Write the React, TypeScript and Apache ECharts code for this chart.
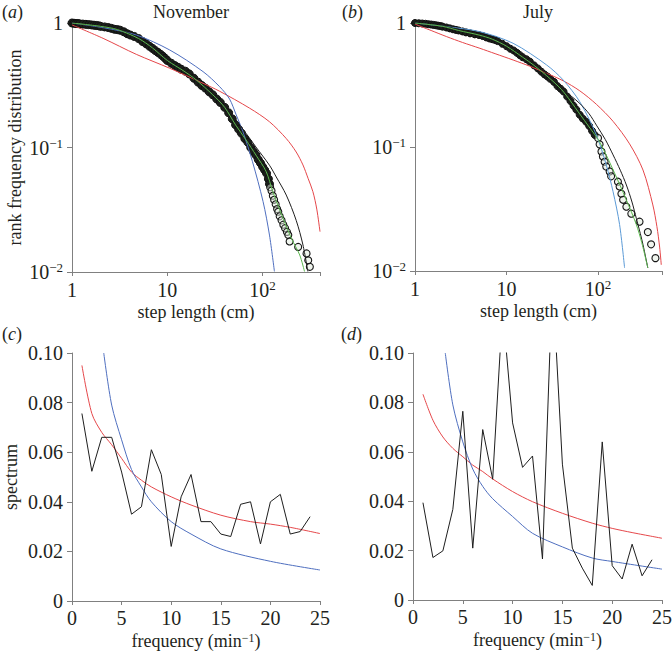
import React, { useEffect, useRef } from 'react';
import * as echarts from 'echarts';

const FONT = '"Liberation Serif", "Times New Roman", Times, serif';
const TXT = '#231f20';
const AXIS = '#808080';

// ---------- (a) November: rank frequency distribution of step lengths ----------
// dense part of the observed points (they overlap into a solid band)
const novDenseX = [1.0, 1.05, 1.1, 1.15, 1.2, 1.3, 1.4, 1.5, 1.6, 1.7, 1.8, 1.9, 2.0, 2.2, 2.4, 2.6, 2.8, 3.0, 3.2, 3.5, 3.8, 4.1, 4.5, 5.0, 5.5, 6.0, 6.5, 7.0, 7.5, 8.0, 8.5, 9.0, 9.5, 10, 11, 12, 13, 14, 15.5, 17, 19, 21, 23, 25, 27.5, 30, 33, 36, 40, 44, 48, 52, 56, 60, 65, 70, 75, 80, 85, 90, 95, 100, 105, 110, 115, 118];
const novDenseY = [1.0, 0.995, 0.99, 0.99, 0.985, 0.98, 0.975, 0.97, 0.965, 0.96, 0.955, 0.95, 0.94, 0.93, 0.92, 0.905, 0.89, 0.885, 0.875, 0.85, 0.82, 0.80, 0.78, 0.75, 0.71, 0.68, 0.65, 0.625, 0.60, 0.58, 0.56, 0.54, 0.52, 0.50, 0.475, 0.455, 0.44, 0.425, 0.41, 0.39, 0.36, 0.335, 0.315, 0.30, 0.28, 0.265, 0.245, 0.23, 0.21, 0.19, 0.17, 0.152, 0.14, 0.13, 0.118, 0.11, 0.10, 0.093, 0.087, 0.08, 0.075, 0.07, 0.066, 0.062, 0.056, 0.051];
// sparse tail of the observed points (open circles)
const novTailX = [120, 124, 128, 132, 137, 142, 146, 151, 158, 165, 172, 180, 186, 192, 236, 289, 301, 313];
const novTailY = [0.048, 0.045, 0.041, 0.038, 0.035, 0.032, 0.0305, 0.028, 0.026, 0.024, 0.0225, 0.021, 0.0198, 0.0176, 0.0159, 0.0141, 0.0124, 0.011];
const novRedX = [1, 2.12, 4.73, 10.6, 23.7, 35.4, 73, 118, 177, 225, 265, 300, 337, 370, 400];
const novRedY = [0.965, 0.753, 0.56, 0.433, 0.328, 0.283, 0.207, 0.161, 0.118, 0.092, 0.0724, 0.0565, 0.0442, 0.032, 0.0211];
const novBlueX = [1, 2.12, 4.73, 10.6, 23.7, 35.4, 45, 52.8, 62.2, 78.2, 101, 118, 133];
const novBlueY = [1.0, 0.917, 0.801, 0.607, 0.407, 0.308, 0.245, 0.183, 0.134, 0.0771, 0.0369, 0.0198, 0.0101];
const novBlackX = [1, 2, 3, 5, 7, 10, 15, 20, 30, 40, 50, 67, 85, 118, 139, 177, 225, 265, 298];
const novBlackY = [1.0, 0.94, 0.89, 0.76, 0.64, 0.51, 0.41, 0.345, 0.27, 0.215, 0.175, 0.13, 0.101, 0.072, 0.058, 0.0415, 0.026, 0.0165, 0.0101];
const novGreenX = [1, 2, 3, 5, 7, 10, 15, 20, 30, 40, 52, 67, 85, 109, 128, 164, 200, 245, 275];
const novGreenY = [1.0, 0.94, 0.885, 0.75, 0.63, 0.50, 0.41, 0.35, 0.265, 0.21, 0.152, 0.115, 0.087, 0.064, 0.0441, 0.027, 0.0187, 0.0137, 0.0101];

// ---------- (b) July ----------
const julDenseX = [1.0, 1.1, 1.2, 1.3, 1.4, 1.5, 1.6, 1.7, 1.8, 1.9, 2.0, 2.2, 2.4, 2.6, 2.8, 3.0, 3.3, 3.6, 4.0, 4.5, 5.0, 5.5, 6.0, 6.5, 7.0, 7.5, 8.0, 9.0, 10, 11, 12, 13, 14, 15, 16.5, 18, 20, 22, 24, 26, 28, 30, 33, 36, 39, 42, 46, 50, 54, 58, 63, 68, 74, 80, 86, 92];
const julDenseY = [1.0, 0.995, 0.99, 0.985, 0.978, 0.972, 0.965, 0.958, 0.95, 0.945, 0.935, 0.92, 0.905, 0.89, 0.88, 0.87, 0.855, 0.84, 0.825, 0.81, 0.80, 0.785, 0.765, 0.75, 0.74, 0.73, 0.715, 0.68, 0.65, 0.62, 0.60, 0.575, 0.55, 0.53, 0.51, 0.488, 0.455, 0.43, 0.405, 0.385, 0.37, 0.355, 0.335, 0.31, 0.295, 0.28, 0.255, 0.235, 0.215, 0.20, 0.182, 0.17, 0.16, 0.148, 0.135, 0.125];
const julTailX = [100, 104, 109, 113, 118, 123, 134, 139, 165, 172, 180, 188, 204, 231, 284, 350, 380, 424];
const julTailY = [0.118, 0.105, 0.092, 0.084, 0.076, 0.0695, 0.0635, 0.058, 0.0525, 0.048, 0.042, 0.0375, 0.033, 0.029, 0.025, 0.0206, 0.0164, 0.0127];
const julRedX = [1, 1.5, 2.22, 3.3, 5.12, 7.5, 11.8, 18, 27.4, 41.6, 63.1, 95.9, 146, 221, 310, 397, 440, 471, 491];
const julRedY = [0.98, 0.87, 0.776, 0.697, 0.625, 0.566, 0.503, 0.448, 0.393, 0.342, 0.284, 0.221, 0.161, 0.106, 0.0652, 0.0341, 0.0228, 0.0156, 0.0112];
const julBlueX = [1, 2.22, 5.12, 11.8, 27.4, 41.6, 63.1, 95.9, 123, 146, 172, 195];
const julBlueY = [1.0, 0.934, 0.851, 0.686, 0.459, 0.347, 0.232, 0.125, 0.0716, 0.0436, 0.0237, 0.0106];
const julBlackX = [1, 2, 3, 5, 7, 10, 15, 20, 30, 40, 50, 63, 80, 96, 120, 146, 175, 204, 235, 262, 290, 310, 350];
const julBlackY = [1.0, 0.945, 0.89, 0.81, 0.745, 0.665, 0.555, 0.47, 0.37, 0.30, 0.26, 0.225, 0.185, 0.150, 0.115, 0.0864, 0.065, 0.0494, 0.036, 0.0266, 0.020, 0.0163, 0.0106];
const julGreenX = [1, 2, 3, 5, 7, 10, 15, 20, 30, 40, 50, 63, 80, 104, 146, 204, 262, 300, 350];
const julGreenY = [1.0, 0.94, 0.87, 0.80, 0.74, 0.65, 0.53, 0.455, 0.355, 0.29, 0.235, 0.185, 0.145, 0.11, 0.0655, 0.0374, 0.0237, 0.017, 0.0106];

// ---------- (c), (d) spectra ----------
const freq = [1, 2, 3, 4, 5, 6, 7, 8, 9, 10, 11, 12, 13, 14, 15, 16, 17, 18, 19, 20, 21, 22, 23, 24];
const novSpec = [0.0756, 0.0523, 0.066, 0.066, 0.052, 0.035, 0.038, 0.061, 0.051, 0.022, 0.042, 0.051, 0.032, 0.032, 0.027, 0.026, 0.039, 0.040, 0.023, 0.040, 0.043, 0.027, 0.028, 0.034];
const julSpec = [0.0394, 0.0172, 0.0199, 0.0367, 0.0764, 0.021, 0.069, 0.0489, 0.118, 0.0717, 0.0537, 0.0583, 0.0166, 0.13, 0.055, 0.021, 0.0129, 0.0059, 0.064, 0.0139, 0.0085, 0.0226, 0.0098, 0.0163];
const novSpecRedX = [1, 2, 3, 4, 5, 6, 7, 8, 10, 12, 15, 18, 20, 22, 25];
const novSpecRedY = [0.095, 0.0756, 0.068, 0.063, 0.0575, 0.052, 0.0487, 0.046, 0.042, 0.0387, 0.0346, 0.032, 0.031, 0.0297, 0.0272];
const novSpecBlueX = [3.2, 4, 5, 6, 7, 8, 10, 12, 15, 20, 25];
const novSpecBlueY = [0.1, 0.079, 0.065, 0.053, 0.046, 0.040, 0.032, 0.027, 0.021, 0.016, 0.0125];
const julSpecRedX = [1, 2, 3, 4, 5, 6, 7, 8, 10, 12, 15, 18, 20, 22, 25];
const julSpecRedY = [0.0833, 0.0728, 0.066, 0.0614, 0.058, 0.0546, 0.052, 0.049, 0.0439, 0.0398, 0.0351, 0.0311, 0.029, 0.0273, 0.025];
const julSpecBlueX = [3.24, 4, 5, 6, 7, 8, 10, 12, 15, 18, 20, 25];
const julSpecBlueY = [0.1, 0.079, 0.064, 0.053, 0.046, 0.041, 0.0338, 0.027, 0.0215, 0.017, 0.0156, 0.0125];

const yTickLog = [0.01, 0.1, 1];

const zip = (xs: number[], ys: number[]) => xs.map((x, i) => [x, ys[i]]);

function logLabel(v: number): string {
  const l = Math.log10(v);
  const e = Math.round(l);
  if (Math.abs(l - e) > 1e-6) return '';
  if (e === 0) return '1';
  if (e === 1) return '10';
  return '10{sup|' + (e < 0 ? '\u2212' + -e : String(e)) + '}';
}

const supRich = { sup: { fontFamily: FONT, fontSize: 13, color: TXT, verticalAlign: 'top', lineHeight: 12 } };

const axisCommon = (gridIndex: number) => ({
  gridIndex,
  axisLine: { show: true, onZero: false, lineStyle: { color: AXIS, width: 1 } },
  splitLine: { show: false },
  nameLocation: 'middle',
  nameMoveOverlap: false,
  nameTextStyle: { fontFamily: FONT, fontSize: 18, color: TXT, lineHeight: 18, rich: { sup: { fontFamily: FONT, fontSize: 12, color: TXT, verticalAlign: 'top', lineHeight: 11 } } },
});

const lbl = (margin: number, formatter: any) => ({
  fontFamily: FONT, fontSize: 20, color: TXT, margin, lineHeight: 22, formatter, rich: supRich,
  showMinLabel: true, showMaxLabel: true, hideOverlap: false,
});

function logX(gridIndex: number, max: number) {
  return {
    ...axisCommon(gridIndex), type: 'log', logBase: 10, min: 1, max,
    axisTick: { show: true, length: 4, lineStyle: { color: AXIS } },
    axisLabel: lbl(7, (v: number) => logLabel(v)),
    name: 'step length (cm)', nameGap: 31,
  };
}
function logY(gridIndex: number, name: string) {
  return {
    ...axisCommon(gridIndex), type: 'log', logBase: 10, min: yTickLog[0], max: yTickLog[2],
    axisTick: { show: true, length: 5, lineStyle: { color: AXIS } },
    axisLabel: lbl(9, (v: number) => logLabel(v)),
    name, nameGap: 48,
  };
}
function linX(gridIndex: number) {
  return {
    ...axisCommon(gridIndex), type: 'value', min: 0, max: 25, interval: 5,
    axisTick: { show: true, length: 4, lineStyle: { color: AXIS } },
    axisLabel: lbl(6, (v: number) => String(v)),
    name: 'frequency (min{sup|\u22121})', nameGap: 31,
  };
}
function linY(gridIndex: number, name: string) {
  return {
    ...axisCommon(gridIndex), type: 'value', min: 0, max: 0.1, interval: 0.02,
    axisTick: { show: true, length: 5, lineStyle: { color: AXIS } },
    axisLabel: lbl(9, (v: number) => (v === 0 ? '0' : v.toFixed(2))),
    name, nameGap: 52,
  };
}

const scatterDense = (idx: number, xs: number[], ys: number[], size: number) => ({
  type: 'scatter', xAxisIndex: idx, yAxisIndex: idx, data: zip(xs, ys),
  symbol: 'circle', symbolSize: size, silent: true, z: 2,
  itemStyle: { color: '#1b1f1b', borderColor: '#101010', borderWidth: 1, opacity: 1 },
});
const scatterOpen = (idx: number, xs: number[], ys: number[]) => ({
  type: 'scatter', xAxisIndex: idx, yAxisIndex: idx, data: zip(xs, ys),
  symbol: 'circle', symbolSize: 7, silent: true, z: 2,
  itemStyle: { color: 'rgba(226,236,222,0.5)', borderColor: '#151515', borderWidth: 1.1, opacity: 1 },
});
const curve = (idx: number, xs: number[], ys: number[], color: string, smooth: number | boolean = 0.3) => ({
  type: 'line', xAxisIndex: idx, yAxisIndex: idx, data: zip(xs, ys),
  showSymbol: false, symbol: 'none', smooth, clip: true, silent: true, z: 3,
  lineStyle: { color, width: 1 },
});

const RED = '#e5474a';
const BLUE_A = '#4f6fbf';
const BLUE_B = '#5b9ad6';
const BLACK = '#1e1e1e';
const GREEN = '#5cb84f';

const panelLabel = (x: number, y: number, letter: string) => ({
  type: 'text', x, y,
  style: {
    text: '({i|' + letter + '})', fontFamily: FONT, fontSize: 18, fill: TXT, verticalAlign: 'middle',
    rich: { i: { fontFamily: FONT, fontSize: 18, fontStyle: 'italic', fill: TXT } },
  },
});
const titleText = (x: number, y: number, text: string) => ({
  type: 'text', x, y,
  style: { text, fontFamily: FONT, fontSize: 18, fill: TXT, align: 'center', verticalAlign: 'middle' },
});

export default function App() {
  const ref = useRef<HTMLDivElement>(null);
  useEffect(() => {
    if (!ref.current) return;
    const chart = echarts.init(ref.current, undefined, { renderer: 'svg' });
    const option: any = {
      animation: false,
      backgroundColor: '#ffffff',
      grid: [
        { left: 72, top: 23, width: 248, height: 249, outerBoundsMode: 'none', containLabel: false },
        { left: 415, top: 23, width: 247, height: 248, outerBoundsMode: 'none', containLabel: false },
        { left: 72, top: 353, width: 248, height: 248, outerBoundsMode: 'none', containLabel: false },
        { left: 413, top: 353, width: 249, height: 247, outerBoundsMode: 'none', containLabel: false },
      ],
      xAxis: [logX(0, 400), logX(1, 500), linX(2), linX(3)],
      yAxis: [logY(0, 'rank frequency distribution'), logY(1, ''), linY(2, 'spectrum'), linY(3, '')],
      series: [
        scatterDense(0, novDenseX, novDenseY, 8),
        scatterOpen(0, novTailX, novTailY),
        curve(0, novRedX, novRedY, RED),
        curve(0, novBlueX, novBlueY, BLUE_A),
        curve(0, novBlackX, novBlackY, BLACK),
        curve(0, novGreenX, novGreenY, GREEN),
        scatterDense(1, julDenseX, julDenseY, 7),
        scatterOpen(1, julTailX, julTailY),
        curve(1, julRedX, julRedY, RED),
        curve(1, julBlueX, julBlueY, BLUE_B),
        curve(1, julBlackX, julBlackY, BLACK),
        curve(1, julGreenX, julGreenY, GREEN),
        curve(2, novSpecRedX, novSpecRedY, RED),
        curve(2, novSpecBlueX, novSpecBlueY, BLUE_A),
        curve(2, freq, novSpec, BLACK, false),
        curve(3, julSpecRedX, julSpecRedY, RED),
        curve(3, julSpecBlueX, julSpecBlueY, BLUE_A),
        curve(3, freq, julSpec, BLACK, false),
      ],
      graphic: [
        panelLabel(2, 12, 'a'),
        titleText(191, 12, 'November'),
        panelLabel(342, 12, 'b'),
        titleText(538, 12, 'July'),
        panelLabel(2, 334, 'c'),
        panelLabel(341, 334, 'd'),
      ],
    };
    chart.setOption(option);
    return () => chart.dispose();
  }, []);
  return (
    <div
      ref={ref}
      style={{ position: 'absolute', left: 0, top: 0, width: 672, height: 651, background: '#fff' }}
    />
  );
}
